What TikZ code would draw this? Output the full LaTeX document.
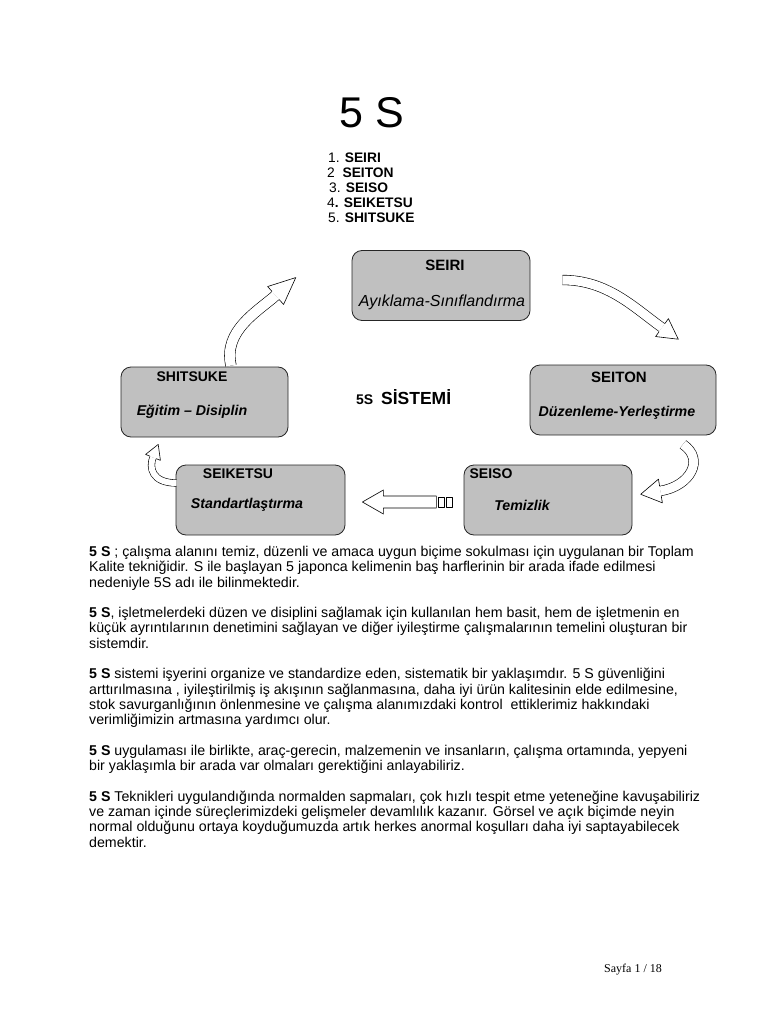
\documentclass[tikz,border=0pt]{standalone}
\usepackage{fontspec}
\setmainfont{Liberation Sans}
\newfontfamily\seriffont{Liberation Serif}
\usetikzlibrary{calc}
\definecolor{boxgray}{RGB}{192,192,192}
\newcommand{\bodyfont}{\fontsize{14.2}{15.3}\selectfont\lineskiplimit=-20pt\relax}
% open head of a block arrow: end, offset of last control, length, half width, half band
\newcommand{\arrhead}[5]{%
  \coordinate (hc) at ($(#1)+(#2)$);
  \coordinate (hl) at ($(#1)!#4!90:(hc)$);
  \coordinate (hr) at ($(#1)!#4!-90:(hc)$);
  \coordinate (htip) at ($(#1)!-#3!(hc)$);
  \fill[white] (hl) -- (htip) -- (hr) -- cycle;
  \draw[edge] ($(#1)!#5!90:(hc)$) -- (hl) -- (htip) -- (hr) -- ($(#1)!#5!-90:(hc)$);}
\begin{document}
\begin{tikzpicture}[x=1pt, y=-1pt,
  box/.style={rectangle, rounded corners=10pt, draw=black!85, fill=boxgray, line width=0.8pt,
              minimum height=70pt, inner sep=0pt},
  ttl/.style={font=\fontsize{14}{16}\selectfont\bfseries, inner sep=0pt},
  sub/.style={font=\fontsize{14.2}{16}\selectfont\bfseries\itshape, inner sep=0pt},
  lst/.style={font=\fontsize{13.8}{16}\selectfont, inner sep=0pt, anchor=west},
  band/.style={draw=black, line width=0.6pt, double=white, double distance=#1},
  edge/.style={draw=black, line width=0.6pt, line join=round},
  body/.style={font=\bodyfont, align=left, inner sep=0pt}]
\useasboundingbox[fill=white] (0,0) rectangle (768,1024);
% --- title and list ---
\node[font=\fontsize{43}{50}\selectfont, inner sep=0pt] (title) at (372,113) {5 S};
\node[lst] (l1) at (328,158) {1. \textbf{SEIRI}};
\node[lst] (l2) at (327,173) {2\ \ \textbf{SEITON}};
\node[lst] (l3) at (329,188) {3. \textbf{SEISO}};
\node[lst] (l4) at (327,203) {4\textbf{.} \textbf{SEIKETSU}};
\node[lst] (l5) at (328,218) {5. \textbf{SHITSUKE}};
% --- the five boxes ---
\node[box, minimum width=178pt] (seiri) at (441,285.5) {};
\node[box, minimum width=186pt] (seiton) at (623,400) {};
\node[box, minimum width=167pt] (shitsuke) at (204.5,402) {};
\node[box, minimum width=169pt] (seiketsu) at (260.5,500) {};
\node[box, minimum width=168pt] (seiso) at (548,500) {};
\node[ttl, font=\fontsize{15}{17}\selectfont\bfseries] (seiri-t) at (445,265) {SEIRI};
\node[sub, font=\fontsize{16}{18}\selectfont\itshape] (seiri-s) at (442,302) {Ayıklama-Sınıflandırma};
\node[ttl, font=\fontsize{15}{17}\selectfont\bfseries] (seiton-t) at (619,377) {SEITON};
\node[sub] (seiton-s) at (617,413) {Düzenleme-Yerleştirme};
\node[ttl] (shitsuke-t) at (192,377) {SHITSUKE};
\node[sub] (shitsuke-s) at (192,412) {Eğitim – Disiplin};
\node[ttl] (seiketsu-t) at (238,474) {SEIKETSU};
\node[sub] (seiketsu-s) at (247,505) {Standartlaştırma};
\node[ttl] (seiso-t) at (491,474) {SEISO};
\node[sub] (seiso-s) at (522,505) {Temizlik};
\node[inner sep=0pt, anchor=west] (center) at (356,397)
  {\fontsize{14}{16}\selectfont\bfseries 5S\ \ \fontsize{17.5}{20}\selectfont SİSTEMİ};
% --- curved block arrows ---
\coordinate (a1s) at ($(seiri.east)+(32,-5.5)$);
\coordinate (a1e) at ($(seiton.north)+(39,-37)$);
\draw[band=9pt] (a1s) .. controls +(45,0) and +(-28,-20) .. (a1e);
\arrhead{a1e}{-28,-20}{20pt}{11pt}{5pt}
\coordinate (a2s) at ($(seiton.south)+(60,9)$);
\coordinate (a2e) at ($(seiso.east)+(28,-9)$);
\draw[band=9pt] (a2s) .. controls +(22,15) and +(30,-5) .. (a2e);
\arrhead{a2e}{30,-5}{20pt}{12pt}{5pt}
\coordinate (a4s) at ($(seiketsu.west)+(1,-17)$);
\coordinate (a4e) at ($(shitsuke.south)+(-51.5,20)$);
\draw[band=6pt] (a4s) .. controls +(-25,0) and +(-4,10) .. (a4e);
\arrhead{a4e}{-4,10}{14pt}{8pt}{3.5pt}
\coordinate (a5s) at ($(shitsuke.north)+(26.5,-1)$);
\coordinate (a5e) at ($(seiri.west)+(-76,10)$);
\draw[band=10pt] (a5s) .. controls +(-8,-35) and +(-18,16) .. (a5e);
\arrhead{a5e}{-18,16}{27pt}{12pt}{5.5pt}
% --- straight striped arrow SEISO -> SEIKETSU ---
\coordinate (a3t) at ($(seiketsu.east)+(17,2)$);
\draw[edge, fill=white] (a3t) -- ++(21,-12) -- ++(0,6) -- ++(53,0) -- ++(0,12) -- ++(-53,0) -- ++(0,6) -- cycle;
\draw[edge] ($(a3t)+(76,-5)$) rectangle +(6,10);
\draw[edge] ($(a3t)+(84,-5)$) rectangle +(6,10);
% --- body text ---
\node[body, anchor=north west] (txt) at (89,546)
  {\textbf{5 S} ; çalışma alanını temiz, düzenli ve amaca uygun biçime sokulması için uygulanan bir Toplam\\
   Kalite tekniğidir. S ile başlayan 5 japonca kelimenin baş harflerinin bir arada ifade edilmesi\\
   nedeniyle 5S adı ile bilinmektedir.\\[15.3pt]
   \textbf{5 S}, işletmelerdeki düzen ve disiplini sağlamak için kullanılan hem basit, hem de işletmenin en\\
   küçük ayrıntılarının denetimini sağlayan ve diğer iyileştirme çalışmalarının temelini oluşturan bir\\
   sistemdir.\\[15.3pt]
   \textbf{5 S} sistemi işyerini organize ve standardize eden, sistematik bir yaklaşımdır. 5 S güvenliğini\\
   arttırılmasına , iyileştirilmiş iş akışının sağlanmasına, daha iyi ürün kalitesinin elde edilmesine,\\
   stok savurganlığının önlenmesine ve çalışma alanımızdaki kontrol\ \ ettiklerimiz hakkındaki\\
   verimliğimizin artmasına yardımcı olur.\\[15.3pt]
   \textbf{5 S} uygulaması ile birlikte, araç-gerecin, malzemenin ve insanların, çalışma ortamında, yepyeni\\
   bir yaklaşımla bir arada var olmaları gerektiğini anlayabiliriz.\\[15.3pt]
   \textbf{5 S} Teknikleri uygulandığında normalden sapmaları, çok hızlı tespit etme yeteneğine kavuşabiliriz\\
   ve zaman içinde süreçlerimizdeki gelişmeler devamlılık kazanır. Görsel ve açık biçimde neyin\\
   normal olduğunu ortaya koyduğumuzda artık herkes anormal koşulları daha iyi saptayabilecek\\
   demektir.};
\node[font=\seriffont\fontsize{12}{14}\selectfont, inner sep=0pt] (page) at (633,970) {Sayfa 1 / 18};
\end{tikzpicture}
\end{document}
